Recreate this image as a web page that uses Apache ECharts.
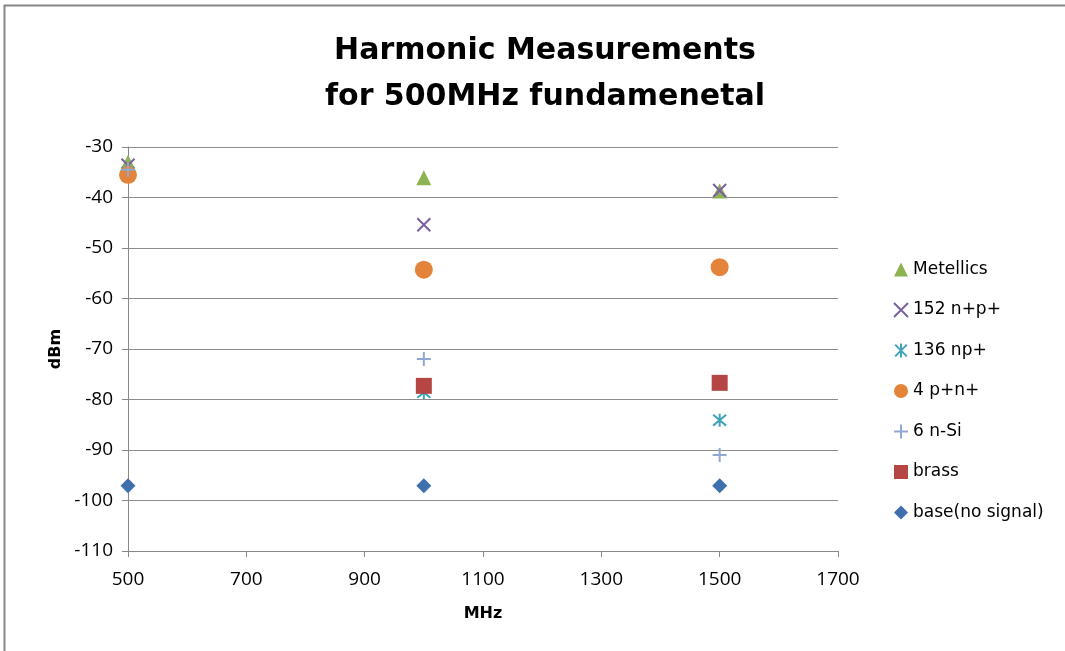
<!DOCTYPE html>
<html>
<head>
<meta charset="utf-8">
<script src="https://cdn.jsdelivr.net/npm/echarts@6/dist/echarts.min.js"></script>
<style>
html,body{margin:0;padding:0;background:#fff;}
#chart{width:1065px;height:651px;}
</style>
</head>
<body>
<div id="chart"></div>
<script>
// ---- data ----
const freqs = [500, 1000, 1500];
const metellics = [-33, -36.1, -38.7];
const n152 = [-33.6, -45.4, -38.6];
const np136 = [-35, -78.6, -84.1];
const p4 = [-35.5, -54.3, -53.8];
const nSi6 = [-34.5, -72, -91];
const brass = [null, -77.3, -76.7];
const base = [-97.1, -97.1, -97.1];
const seriesNames = ['Metellics', '152 n+p+', '136 np+', '4 p+n+', '6 n-Si', 'brass', 'base(no signal)'];
const xTicks = [500, 700, 900, 1100, 1300, 1500, 1700];
const yTicks = [-110, -100, -90, -80, -70, -60, -50, -40, -30];

const FONT = 'DejaVu Sans';
const TICKFONT = 'Open Sans';
function pts(arr){ return freqs.map((f,i)=>[f, arr[i]]).filter(p=>p[1]!==null); }

const X_PATH = 'path://M0,0L10,10M10,0L0,10';
const STAR_PATH = 'path://M0,0L10,10M10,0L0,10M5,-1L5,11';
const PLUS_PATH = 'path://M5,0L5,10M0,5L10,5';

const styles = [
  {symbol:'triangle', size:15, color:'#8DB353'},
  {symbol:X_PATH, size:13, color:'#7B60A0', stroke:true},
  {symbol:STAR_PATH, size:13, color:'#3FA3BC', stroke:true},
  {symbol:'circle', size:18, color:'#E3843A'},
  {symbol:PLUS_PATH, size:14, color:'#8FA9D4', stroke:true},
  {symbol:'rect', size:16, color:'#B54644'},
  {symbol:'diamond', size:15, color:'#3F6FAD'}
];
const dataArrs = [metellics, n152, np136, p4, nSi6, brass, base];

const series = dataArrs.map((arr,i)=>{
  const s = styles[i];
  const itemStyle = s.stroke
    ? {color:'rgba(0,0,0,0)', borderColor:s.color, borderWidth:2, opacity:1}
    : {color:s.color, opacity:1};
  return {
    name: seriesNames[i], type:'scatter', data: pts(arr),
    symbol: s.symbol, symbolSize: s.size, itemStyle: itemStyle,
    z: 2 + i
  };
});

const chart = echarts.init(document.getElementById('chart'));
chart.setOption({
  animation:false,
  backgroundColor:'#fff',
  title:{
    text:'Harmonic Measurements\nfor 500MHz fundamenetal',
    left:540, top:23, textAlign:'center',
    textStyle:{fontFamily:FONT, fontWeight:'bold', fontSize:30, lineHeight:46, color:'#000'}
  },
  graphic:[{type:'rect', shape:{x:4.5,y:5.5,width:1200,height:800}, style:{fill:'none', stroke:'#868686', lineWidth:2}, silent:true}],
  grid:{left:128, right:227, top:147, bottom:100},
  legend:{
    orient:'vertical', left:888, top:256, itemGap:23.5, itemWidth:14, itemHeight:14,
    textStyle:{fontFamily:FONT, fontSize:17, color:'#000'},
    data: seriesNames
  },
  xAxis:{
    type:'value', min:500, max:1700, interval:200,
    name:'MHz', nameLocation:'middle', nameGap:55,
    nameTextStyle:{fontFamily:FONT, fontWeight:'bold', fontSize:16, color:'#000'},
    axisLine:{show:true, onZero:false, lineStyle:{color:'#888', width:1}},
    axisTick:{show:true, length:6, lineStyle:{color:'#888'}},
    axisLabel:{fontFamily:TICKFONT, fontSize:19, color:'#000', margin:19,
      formatter:v=>xTicks.includes(v)?String(v):''},
    splitLine:{show:false}
  },
  yAxis:{
    type:'value', min:-110, max:-30, interval:10,
    name:'dBm', nameLocation:'middle', nameGap:62, nameRotate:90,
    nameTextStyle:{fontFamily:FONT, fontWeight:'bold', fontSize:16, color:'#000'},
    axisLine:{show:true, onZero:false, lineStyle:{color:'#888', width:1}},
    axisTick:{show:true, length:6, lineStyle:{color:'#888'}},
    axisLabel:{fontFamily:TICKFONT, fontSize:19, color:'#000', margin:15,
      formatter:v=>yTicks.includes(v)?String(v):''},
    splitLine:{show:true, lineStyle:{color:'#8c8c8c', width:1}}
  },
  series: series
});
</script>
</body>
</html>
